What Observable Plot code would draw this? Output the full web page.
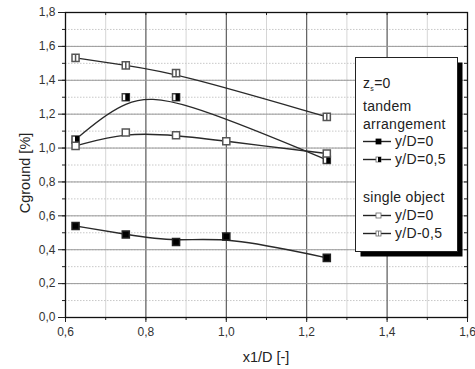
<!DOCTYPE html>
<html><head><meta charset="utf-8">
<script src="https://cdn.jsdelivr.net/npm/d3@7"></script>
<script src="https://cdn.jsdelivr.net/npm/@observablehq/plot@0.6"></script>
<style>
body{margin:0;background:#fff;}
#c{position:relative;width:475px;height:369px;font-family:'Liberation Sans',Arial,sans-serif;}
</style>
</head><body><div id="c"></div>
<script>
// ---- data ----
const x5 = [0.625, 0.75, 0.875, 1.0, 1.25];
const x4 = [0.625, 0.75, 0.875, 1.25];
const tandemY0 = [0.54, 0.49, 0.446, 0.478, 0.352];      // tandem, y/D=0
const tandemY05 = [1.05, 1.30, 1.30, 0.93];               // tandem, y/D=0,5
const singleY0 = [1.013, 1.092, 1.076, 1.04, 0.968];      // single object, y/D=0
const singleY05 = [1.532, 1.488, 1.442, 1.184];           // single object, y/D=0,5
const xTicks = [0.6, 0.8, 1.0, 1.2, 1.4, 1.6];
const xMinor = [0.6, 0.7, 0.8, 0.9, 1.0, 1.1, 1.2, 1.3, 1.4, 1.5, 1.6];
const yTicks = [0, 0.2, 0.4, 0.6, 0.8, 1.0, 1.2, 1.4, 1.6, 1.8];
const yMinor = [0, 0.1, 0.2, 0.3, 0.4, 0.5, 0.6, 0.7, 0.8, 0.9, 1.0, 1.1, 1.2, 1.3, 1.4, 1.5, 1.6, 1.7, 1.8];
const xTitle = "x1/D [-]";
const yTitle = "Cground [%]";
const legendHeader = ["tandem", "arrangement"];
const legendEntries = ["y/D=0", "y/D=0,5", "y/D=0", "y/D-0,5"];
const legendSingle = "single object";

const T = (xs, ys) => xs.map((x, i) => ({x, y: ys[i]}));
const tandem0 = T(x5, tandemY0), tandem05 = T(x4, tandemY05);
const single0 = T(x5, singleY0), single05 = T(x4, singleY05);
const fmt = d => d.toFixed(1).replace(".", ",");

const halfRight = {draw(ctx, size) { const w = Math.sqrt(size) / 2;
  ctx.moveTo(-w * 0.15, -w); ctx.lineTo(w, -w); ctx.lineTo(w, w); ctx.lineTo(-w * 0.15, w); ctx.closePath(); }};
const vbar = {draw(ctx, size) { const w = Math.sqrt(size) / 2; ctx.moveTo(0, -w); ctx.lineTo(0, w); }};

const lineOpts = {x: "x", y: "y", curve: "basis", stroke: "#2a2a2a", strokeWidth: 1.4};
const R = 4;

const chart = Plot.plot({
  width: 475, height: 369,
  marginLeft: 65, marginRight: 8, marginTop: 12, marginBottom: 52,
  style: {fontFamily: "'Liberation Sans',Arial,sans-serif", fontSize: "12px", color: "#333", background: "#fff"},
  x: {domain: [0.6, 1.6]},
  y: {domain: [0, 1.8]},
  marks: [
    Plot.gridX(xMinor, {stroke: "#d6d6d6", strokeOpacity: 1}),
    Plot.gridY(yMinor, {stroke: "#c8c8c8", strokeOpacity: 1, strokeDasharray: "1.5,1.5"}),
    Plot.gridX(xTicks, {stroke: "#4a4a4a", strokeOpacity: 1}),
    Plot.gridY(yTicks, {stroke: "#9a9a9a", strokeOpacity: 1}),
    Plot.ruleX(xMinor, {x: d => d, insetBottom: 302, stroke: "#222"}),
    Plot.ruleY(yMinor, {y: d => d, insetLeft: 399, stroke: "#222"}),
    Plot.axisY(yMinor, {tickFormat: () => "", tickSize: 3, label: null, stroke: "#222"}),
    Plot.axisY(yTicks, {tickFormat: fmt, tickSize: 7, tickPadding: 3, label: null, stroke: "#222", fill: "#333"}),
    Plot.axisX(xMinor, {tickFormat: () => "", tickSize: 3, label: null, stroke: "#222"}),
    Plot.axisX(xTicks, {tickFormat: fmt, tickSize: 5, tickPadding: 5, label: null, stroke: "#222", fill: "#333"}),
    Plot.frame({stroke: "#111", strokeWidth: 1.3}),
    Plot.line(tandem0, lineOpts),
    Plot.line(tandem05, lineOpts),
    Plot.line(single0, lineOpts),
    Plot.line(single05, lineOpts),
    Plot.dot(tandem0, {x: "x", y: "y", symbol: "square", r: R, fill: "#000", stroke: "#222"}),
    Plot.dot(tandem05, {x: "x", y: "y", symbol: "square", r: R, fill: "#fff", stroke: "#444"}),
    Plot.dot(tandem05, {x: "x", y: "y", symbol: halfRight, r: R, fill: "#000"}),
    Plot.dot(single0, {x: "x", y: "y", symbol: "square", r: R, fill: "#fff", stroke: "#555"}),
    Plot.dot(single05, {x: "x", y: "y", symbol: "square", r: R, fill: "#fff", stroke: "#555"}),
    Plot.dot(single05, {x: "x", y: "y", symbol: vbar, r: R, stroke: "#555", fill: "none"})
  ]
});
document.getElementById("c").appendChild(chart);

// ---- overlay: axis titles and legend ----
const ov = d3.select("#c").append("svg")
  .attr("width", 475).attr("height", 369)
  .style("position", "absolute").style("left", 0).style("top", 0)
  .attr("font-family", "'Liberation Sans',Arial,sans-serif");

ov.append("text").attr("x", 266).attr("y", 362).attr("text-anchor", "middle")
  .attr("font-size", 14.5).attr("fill", "#222").text(xTitle);
ov.append("text").attr("transform", "translate(30,173) rotate(-90)").attr("text-anchor", "middle")
  .attr("font-size", 14.5).attr("fill", "#222").text(yTitle);

const L = {x: 355.5, y: 57.5, w: 102, h: 194};
ov.append("rect").attr("x", L.x + 5).attr("y", L.y + 5).attr("width", L.w).attr("height", L.h).attr("fill", "#000");
ov.append("rect").attr("x", L.x).attr("y", L.y).attr("width", L.w).attr("height", L.h)
  .attr("fill", "#fff").attr("stroke", "#222").attr("stroke-width", 1);

const fs = 14, tx = 363, ls = 0.3;
const zt = ov.append("text").attr("x", tx).attr("y", 88).attr("font-size", fs).attr("fill", "#222").attr("letter-spacing", ls);
zt.append("tspan").text("z");
zt.append("tspan").attr("font-size", 7).attr("dy", 3).text("s");
zt.append("tspan").attr("dy", -3).text("=0");
ov.append("text").attr("x", tx).attr("y", 111).attr("font-size", fs).attr("fill", "#222").attr("letter-spacing", ls).text(legendHeader[0]);
ov.append("text").attr("x", tx).attr("y", 129).attr("font-size", fs).attr("fill", "#222").attr("letter-spacing", ls).text(legendHeader[1]);
ov.append("text").attr("x", tx).attr("y", 202).attr("font-size", fs).attr("fill", "#222").attr("letter-spacing", ls).text(legendSingle);

const rows = [146, 164, 220, 238];
rows.forEach((by, i) => {
  const cy = by - 4.5;
  ov.append("line").attr("x1", tx).attr("x2", 391).attr("y1", cy).attr("y2", cy).attr("stroke", "#222").attr("stroke-width", 1.4);
  const s = 5, cx = 378.5;
  ov.append("rect").attr("x", cx - s / 2).attr("y", cy - s / 2).attr("width", s).attr("height", s)
    .attr("fill", i === 0 ? "#000" : "#fff").attr("stroke", i === 0 ? "#000" : "#666").attr("stroke-width", 0.8);
  if (i === 1) ov.append("rect").attr("x", cx - 0.5).attr("y", cy - s / 2).attr("width", s / 2 + 0.5).attr("height", s).attr("fill", "#000");
  if (i === 3) ov.append("line").attr("x1", cx).attr("x2", cx).attr("y1", cy - s / 2).attr("y2", cy + s / 2).attr("stroke", "#666").attr("stroke-width", 0.8);
  ov.append("text").attr("x", 395).attr("y", by).attr("font-size", fs).attr("fill", "#222").attr("letter-spacing", ls).text(legendEntries[i]);
});
</script>
</body></html>
